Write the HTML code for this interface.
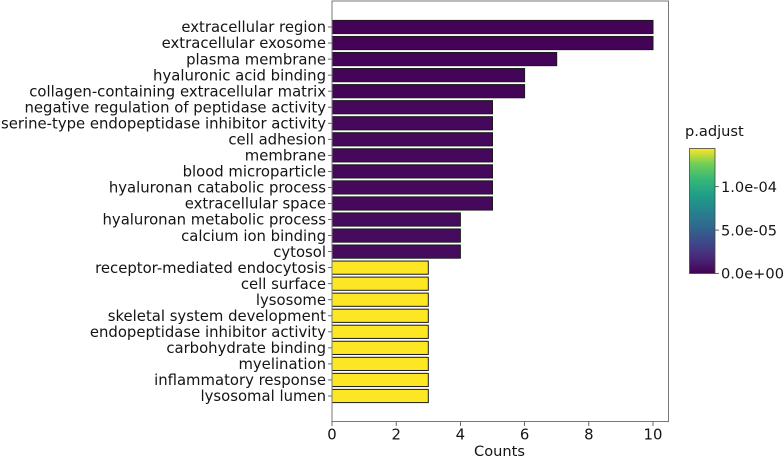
<!DOCTYPE html>
<html>
<head>
<meta charset="utf-8">
<style>
html,body{margin:0;padding:0;background:#fff;width:784px;height:457px;overflow:hidden}
svg{display:block}
text{font-family:"DejaVu Sans",sans-serif;fill:#141414}
</style>
</head>
<body>
<svg id="chart" width="784" height="457" viewBox="0 0 784 457" xmlns="http://www.w3.org/2000/svg">
<defs>
<linearGradient id="viridis" x1="0" y1="1" x2="0" y2="0">
<stop offset="0" stop-color="#440154"/>
<stop offset="0.125" stop-color="#482878"/>
<stop offset="0.25" stop-color="#3e4989"/>
<stop offset="0.375" stop-color="#31688e"/>
<stop offset="0.5" stop-color="#26828e"/>
<stop offset="0.625" stop-color="#1f9e89"/>
<stop offset="0.75" stop-color="#35b779"/>
<stop offset="0.875" stop-color="#6ece58"/>
<stop offset="1" stop-color="#fde725"/>
</linearGradient>
</defs>
</svg>
<script>
const categories = ["extracellular region","extracellular exosome","plasma membrane","hyaluronic acid binding","collagen-containing extracellular matrix","negative regulation of peptidase activity","serine-type endopeptidase inhibitor activity","cell adhesion","membrane","blood microparticle","hyaluronan catabolic process","extracellular space","hyaluronan metabolic process","calcium ion binding","cytosol","receptor-mediated endocytosis","cell surface","lysosome","skeletal system development","endopeptidase inhibitor activity","carbohydrate binding","myelination","inflammatory response","lysosomal lumen"];
const counts = [10,10,7,6,6,5,5,5,5,5,5,5,4,4,4,3,3,3,3,3,3,3,3,3];
const padjust = [0.000001,0.000001,0.000002,0.000002,0.000002,0.000003,0.000003,0.000003,0.000003,0.000003,0.000003,0.000003,0.000005,0.000005,0.000005,0.000144,0.000144,0.000144,0.000144,0.000144,0.000144,0.000144,0.000144,0.000144];
const xTicks = [0,2,4,6,8,10];
const cbarTicks = [0,0.00005,0.0001];
const cbarLabels = ["0.0e+00","5.0e-05","1.0e-04"];
const cbarMax = 0.000144;

const NS = "http://www.w3.org/2000/svg";
const svg = document.getElementById("chart");
const x = v => 332 + v * 32.1;
const y = i => 27 + i * 16.043;
const cy = v => 273.5 - (v / cbarMax) * 125;
const FS = 14.6;
const YFS = 14.85;

function make(tag, attrs, text) {
  const el = document.createElementNS(NS, tag);
  for (const k in attrs) el.setAttribute(k, attrs[k]);
  if (text !== undefined) el.textContent = text;
  svg.appendChild(el);
  return el;
}
const viridisStops = [[68,1,84],[72,40,120],[62,73,137],[49,104,142],[38,130,142],[31,158,137],[53,183,121],[110,206,88],[253,231,37]];
function viridis(t) {
  const p = Math.max(0, Math.min(1, t)) * 8;
  const i = Math.min(7, Math.floor(p));
  const f = p - i;
  const c = [0,1,2].map(j => Math.round(viridisStops[i][j] + (viridisStops[i+1][j] - viridisStops[i][j]) * f));
  return "rgb(" + c.join(",") + ")";
}

categories.forEach((name, i) => {
  const bar = make("rect", {x: x(0), y: y(i) - 6.6, width: x(counts[i]) - x(0), height: 13.2, fill: viridis(padjust[i] / cbarMax), stroke: "#1a1a1a", "stroke-width": 1});
  
  
  const tick = make("line", {x1: 328, x2: 332, y1: y(i), y2: y(i), stroke: "#444", "stroke-width": 0.8});
  
  
  const label = make("text", {x: 326, y: y(i) + 5.2, "text-anchor": "end", "font-size": YFS}, name);
  
  
});

const frame = make("rect", {x: 332, y: 1, width: 336.5, height: 420.5, fill: "none", stroke: "#777", "stroke-width": 1});



xTicks.forEach(v => {
  const tick = make("line", {x1: x(v), x2: x(v), y1: 421.5, y2: 426, stroke: "#444", "stroke-width": 0.8});
  
  
  const label = make("text", {x: x(v), y: 439.5, "text-anchor": "middle", "font-size": YFS}, String(v));
  
  
});

const xTitle = make("text", {x: 499.5, y: 456, "text-anchor": "middle", "font-size": 14.6}, "Counts");



const cbarTitle = make("text", {x: 685, y: 136, "font-size": FS}, "p.adjust");



const cbar = make("rect", {x: 689.5, y: cy(cbarMax), width: 25.5, height: cy(0) - cy(cbarMax), fill: "url(#viridis)", stroke: "#444", "stroke-width": 0.8});



cbarTicks.forEach((v, i) => {
  const tick = make("line", {x1: 715, x2: 719, y1: cy(v), y2: cy(v), stroke: "#444", "stroke-width": 0.8});
  
  
  const label = make("text", {x: 721, y: cy(v) + 5.2, "font-size": FS}, cbarLabels[i]);
  
  
});
</script>
</body>
</html>
